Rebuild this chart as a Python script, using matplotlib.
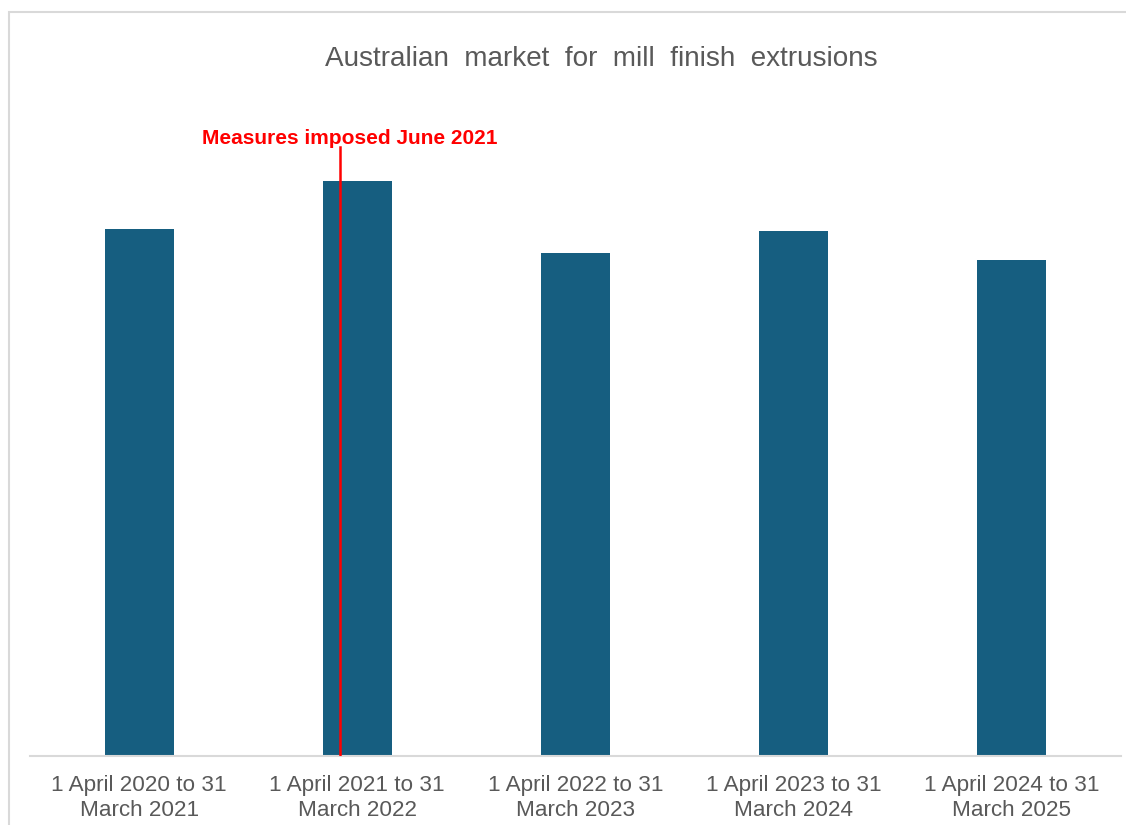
import matplotlib.pyplot as plt
from matplotlib.patches import Rectangle

periods = ['1 April 2020 to 31\nMarch 2021', '1 April 2021 to 31\nMarch 2022',
           '1 April 2022 to 31\nMarch 2023', '1 April 2023 to 31\nMarch 2024',
           '1 April 2024 to 31\nMarch 2025']
market = [527, 575, 503, 525, 496]   # relative volume
measure_pos = 0.92                   # June 2021, inside the second period
measure_label = 'Measures imposed June 2021'

plt.rcParams['font.family'] = ['Liberation Sans', 'DejaVu Sans']

fig = plt.figure(figsize=(11.26, 8.25), dpi=100)
ax = fig.add_axes([30/1126, 1-756/825, 1091/1126, 656/825])

ax.bar(range(len(market)), market, width=0.317, color='#165E80', zorder=2)
ax.set_xlim(-0.5, len(market)-0.5)
ax.set_ylim(0, 656)

ax.axvline(measure_pos, ymin=0, ymax=609/656, color='red', linewidth=1.8, zorder=3)
ax.text(measure_pos + 0.045, 608, measure_label, color='red', fontsize=15,
        fontweight='bold', ha='center', va='bottom')

ax.set_xticks(range(len(periods)))
ax.set_xticklabels(periods, fontsize=16.2, color='#595959', linespacing=1.25)
ax.tick_params(axis='x', length=0, pad=14)
ax.set_yticks([])
for s in ['top', 'right', 'left']:
    ax.spines[s].set_visible(False)
ax.spines['bottom'].set_color('#D9D9D9')
ax.spines['bottom'].set_linewidth(1.5)

fig.text(601/1126, 1-59/825, 'Australian  market  for  mill  finish  extrusions',
         fontsize=20.1, color='#595959', ha='center', va='center')

fig.patches.append(Rectangle((9/1126, -0.05), 1.2, 1-12/825+0.05, transform=fig.transFigure,
                             fill=False, edgecolor='#D9D9D9', linewidth=1.5))

fig.savefig('out.png', dpi=100)
